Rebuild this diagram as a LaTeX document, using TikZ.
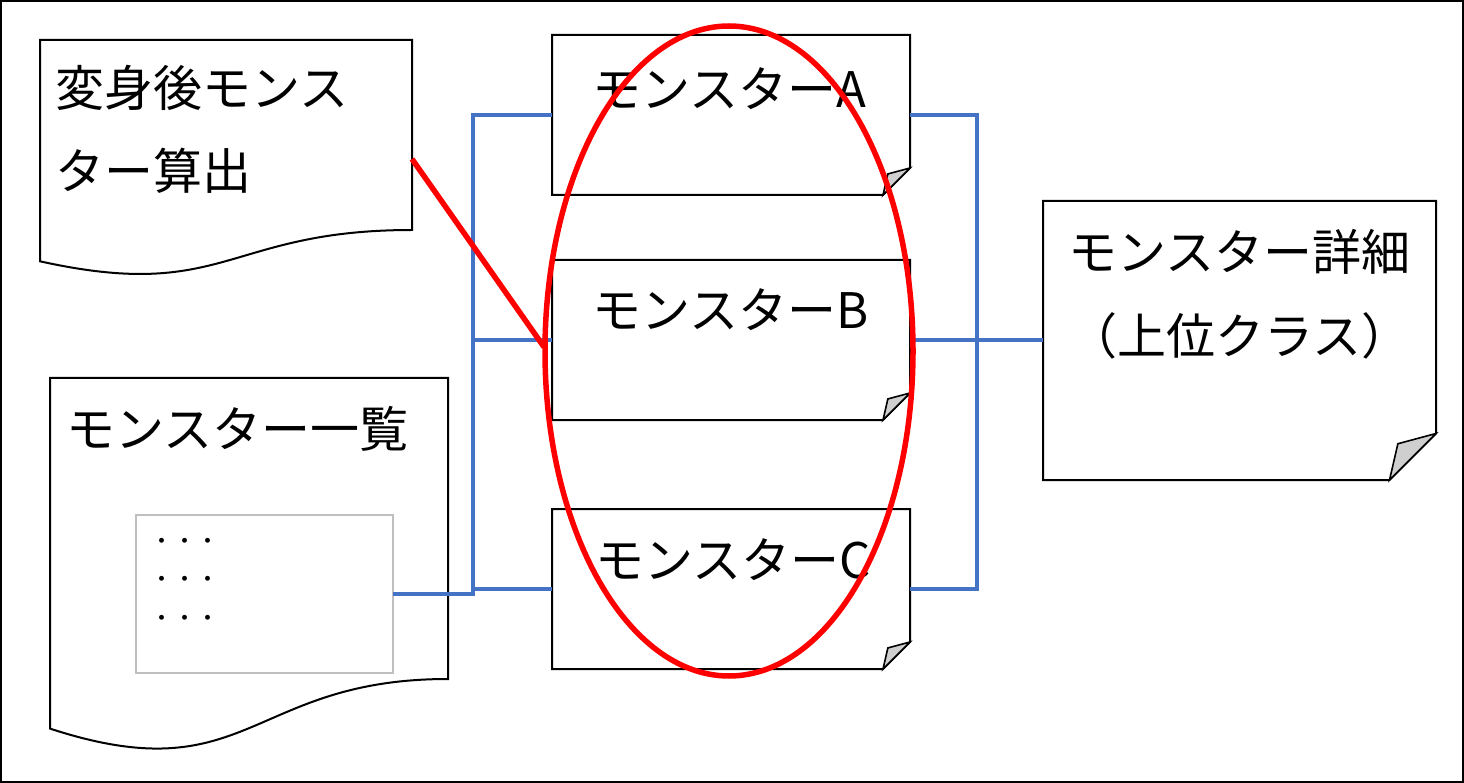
\documentclass[tikz,border=0pt]{standalone}
\usepackage{fontspec}
\newfontfamily\jp{Noto Sans CJK JP}
\usetikzlibrary{calc,shapes.geometric}
\definecolor{conblue}{HTML}{4472C4}
\definecolor{foldgray}{HTML}{CFCFCF}
\definecolor{boxgray}{HTML}{BFBFBF}
\newcommand\foldedbox[2]{%
  \draw[outline,fill=white] (#1.south west) -- (#1.north west) -- (#1.north east)
    -- ($(#1.south east)+(0,-#2)$) -- ($(#1.south east)+(-#2,0)$) -- cycle;
  \filldraw[outline,fill=foldgray,line width=1.6pt] ($(#1.south east)+(0,-#2)$)
    -- ($(#1.south east)+({-0.82*#2},{-0.78*#2})$) -- ($(#1.south east)+(-#2,0)$) -- cycle;}
\begin{document}
\begin{tikzpicture}[x=1pt,y=-1pt,
  outline/.style={draw=black,line width=2pt,line join=miter},
  holder/.style={draw=none,inner sep=0pt,outer sep=0pt,rectangle,anchor=north west},
  txt/.style={font=\jp\fontsize{49}{58}\selectfont,inner sep=0pt,anchor=base west},
  dotrow/.style={font=\jp\fontsize{23}{28}\selectfont,inner sep=0pt,anchor=base},
  conn/.style={draw=conblue,line width=3.5pt},
  redmark/.style={draw=red,line width=5.5pt}]
\useasboundingbox (0,0) rectangle (1464,783);
\draw[line width=2.5pt] (1.2,1.2) rectangle (1462.8,781.8);

% documents
\node[holder,minimum width=372pt,minimum height=190pt] (D1) at (40,40) {};
\draw[outline,fill=white] (D1.north west) -- (D1.north east) -- (D1.south east)
  .. controls (226,230) and (226,302.5) .. (40,261.3) -- cycle;
\node[holder,minimum width=398pt,minimum height=301pt] (D2) at (50,378) {};
\draw[outline,fill=white] (D2.north west) -- (D2.north east) -- (D2.south east)
  .. controls (249,679) and (249,793.6) .. (50,728.6) -- cycle;
\node[holder,draw=boxgray,line width=1.6pt,minimum width=257pt,minimum height=158pt] (L) at (136,515) {};

% monster boxes
\node[holder,minimum width=358pt,minimum height=160pt] (A) at (552,35) {};
\node[holder,minimum width=358pt,minimum height=160pt] (B) at (552,260) {};
\node[holder,minimum width=358pt,minimum height=160pt] (C) at (552,509) {};
\node[holder,minimum width=393pt,minimum height=279pt] (D) at (1043,201) {};
\foldedbox{A}{27}
\foldedbox{B}{27}
\foldedbox{C}{27}
\foldedbox{D}{46.5}

% texts
\node[txt] (t1a) at (55,107) {変身後モンス};
\node[txt] (t1b) at (55,190) {ター算出};
\node[txt] (tL) at (66,447) {モンスター一覧};
\node[dotrow] (dots1) at (185,549.7) {・・・};
\node[dotrow] (dots2) at (185,587.7) {・・・};
\node[dotrow] (dots3) at (185,626.7) {・・・};
\node[txt] (tA) at (592,108) {モンスターA};
\node[txt] (tB) at (592,329) {モンスターB};
\node[txt] (tC) at (595,578) {モンスターC};
\node[txt] (tD1) at (1068,271) {モンスター詳細};
\node[txt] (tD2) at (1068,355) {（上位クラス）};

% blue connectors
\coordinate (bl) at (473,0);
\coordinate (br) at (977,0);
\draw[conn] (L.east) -- (L.east -| bl) -- (bl |- A.west) -- (A.west);
\draw[conn] (bl |- B.west) -- (B.west);
\draw[conn] (bl |- C.west) -- (C.west);
\draw[conn] (A.east) -- (A.east -| br) -- (br |- C.east) -- (C.east);
\draw[conn] (B.east) -- (B.east -| D.west);

% red marks
\coordinate (d1r) at (412,159);
\coordinate (rend) at (544,347);
\draw[redmark] (d1r) -- (rend);
\node[redmark,ellipse,inner sep=0pt,minimum width=368pt,minimum height=650pt] (E) at (729,351) {};
\end{tikzpicture}
\end{document}
